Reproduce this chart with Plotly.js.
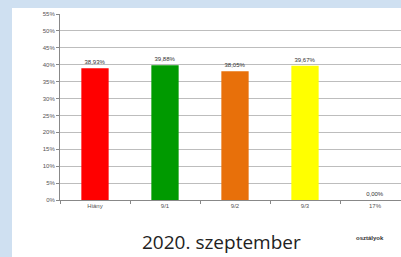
<!DOCTYPE html>
<html><head><meta charset="utf-8">
<script src="https://cdn.plot.ly/plotly-3.0.1.min.js"></script>
<style>
html,body{margin:0;padding:0;width:401px;height:257px;overflow:hidden;background:#cfe0f1;}
#wrap{position:absolute;left:12px;top:8px;width:400px;height:249px;background:#fff;}
#chart{width:400px;height:249px;}
</style></head><body>
<div id="wrap"><div id="chart"></div></div>
<script>
const categories = ["Hiány", "9/1", "9/2", "9/3", "17%"];
const values = [38.93, 39.88, 38.05, 39.67, 0.00];
const labels = ["38,93%", "39,88%", "38,05%", "39,67%", "0,00%"];
const colors = ["#ff0000", "#009a00", "#e8700a", "#ffff00", "#ffffff"];
const tickVals = [0,5,10,15,20,25,30,35,40,45,50,55];
const tickText = tickVals.map(v => v + "%");

Plotly.newPlot("chart", [{
  type: "bar",
  x: categories,
  y: values,
  marker: {color: colors},
  width: 0.39,
  text: labels,
  textposition: "outside",
  cliponaxis: false,
  textfont: {size: 6, color: "#333", family: "Liberation Sans"},
  hoverinfo: "none"
}], {
  width: 400, height: 249,
  margin: {l: 48, r: 2, t: 6, b: 57},
  paper_bgcolor: "#fff", plot_bgcolor: "#fff",
  showlegend: false,
  bargap: 0.6,
  xaxis: {
    type: "category",
    tickfont: {size: 6, color: "#555", family: "Liberation Sans"},
    showline: true, linecolor: "#888", linewidth: 1,
    ticks: "outside", tickson: "boundaries", ticklen: 3, tickcolor: "#888",
    showgrid: false, fixedrange: true
  },
  yaxis: {
    range: [0, 55],
    tickvals: tickVals, ticktext: tickText,
    tickfont: {size: 6, color: "#555", family: "Liberation Sans"},
    showline: true, linecolor: "#888", linewidth: 1,
    ticks: "outside", ticklen: 3, tickcolor: "#888",
    gridcolor: "#bdbdbd", gridwidth: 1, zeroline: false,
    fixedrange: true
  },
  annotations: [
    {text: "2020. szeptember", xref: "paper", yref: "paper", x: 0.46, y: -0.226, yanchor: "middle", xanchor: "center", showarrow: false,
     font: {size: 19, color: "#222", family: "Open Sans"}},
    {text: "<b>osztályok</b>", xref: "paper", yref: "paper", x: 0.886, y: -0.204, yanchor: "middle", xanchor: "center", showarrow: false,
     font: {size: 6, color: "#333", family: "Liberation Sans"}}
  ]
}, {displayModeBar: false, staticPlot: true});
</script>
</body></html>
